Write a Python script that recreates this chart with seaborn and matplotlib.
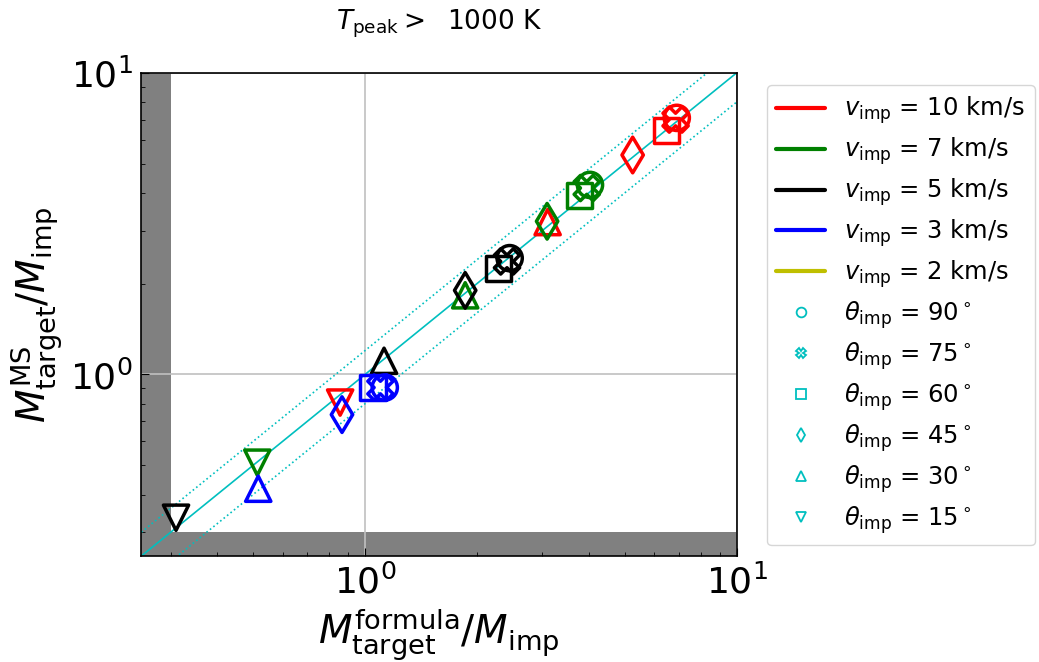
import numpy as np
import pandas as pd
import matplotlib
matplotlib.use('Agg')
import matplotlib.pyplot as plt
from matplotlib.lines import Line2D
import seaborn as sns

# impact velocities (km/s) and angles (deg)
v_imp = [10, 10, 10, 10, 10, 10,
         7, 7, 7, 7, 7, 7,
         5, 5, 5, 5, 5, 5,
         3, 3, 3, 3, 3]
theta_imp = [90, 75, 60, 45, 30, 15,
             90, 75, 60, 45, 30, 15,
             90, 75, 60, 45, 30, 15,
             90, 75, 60, 45, 30]
# M_target^formula / M_imp
m_formula = [6.90, 6.85, 6.48, 5.25, 3.10, 0.857,
             4.03, 3.95, 3.78, 3.09, 1.86, 0.513,
             2.45, 2.41, 2.29, 1.86, 1.125, 0.31,
             1.13, 1.10, 1.05, 0.867, 0.516]
# M_target^MS / M_imp
m_ms = [7.09, 7.00, 6.42, 5.34, 3.20, 0.807,
        4.25, 4.15, 3.93, 3.22, 1.83, 0.510,
        2.43, 2.37, 2.25, 1.90, 1.11, 0.335,
        0.905, 0.905, 0.905, 0.736, 0.418]

v_levels = [10, 7, 5, 3, 2]
v_colors = ['r', 'g', 'k', 'b', 'y']
theta_levels = [90, 75, 60, 45, 30, 15]
theta_markers = ['o', 'X', 's', 'd', '^', 'v']

df = pd.DataFrame({'x': m_formula, 'y': m_ms, 'v': v_imp, 'theta': theta_imp})

sns.set_style('ticks')
plt.rcParams['font.family'] = ['DejaVu Sans']
plt.rcParams['mathtext.fontset'] = 'dejavusans'
for key in ['text.color', 'axes.labelcolor', 'xtick.color', 'ytick.color', 'axes.edgecolor']:
    plt.rcParams[key] = 'black'

fig = plt.figure(figsize=(10.39, 6.62), dpi=100)
ax = fig.add_axes([0.136, 0.160, 0.573, 0.730])

ax.set_xscale('log')
ax.set_yscale('log')
ax.set_xlim(0.25, 10)
ax.set_ylim(0.25, 10)

# shaded region below 0.3
ax.axvspan(0.25, 0.3, color='gray', lw=0, zorder=0)
ax.axhspan(0.25, 0.3, color='gray', lw=0, zorder=0)
ax.grid(True, which='major', color='#c0c0c0', lw=1.2, zorder=0.5)

# one-to-one line and +-20 %
xx = np.array([0.25, 10])
ax.plot(xx, xx, color='c', lw=1.2, zorder=1)
ax.plot(xx, 1.2 * xx, color='c', lw=1.2, ls=':', zorder=1)
ax.plot(xx, 0.8 * xx, color='c', lw=1.2, ls=':', zorder=1)

sns.scatterplot(data=df, x='x', y='y', hue='v', style='theta',
                hue_order=v_levels, palette=dict(zip(v_levels, v_colors)),
                style_order=theta_levels, markers=dict(zip(theta_levels, theta_markers)),
                s=330, linewidth=2.5, legend=False, ax=ax, zorder=3)
coll = ax.collections[-1]
coll.set_edgecolors(coll.get_facecolors())
coll.set_facecolors('none')

ax.tick_params(which='both', direction='in', labelsize=26)
ax.tick_params(which='major', length=6, pad=6)
ax.tick_params(which='minor', length=3)
for sp in ax.spines.values():
    sp.set_linewidth(1.2)

ax.set_xlabel(r'$M_{\rm target}^{\rm formula}/M_{\rm imp}$', fontsize=28)
ax.set_ylabel(r'$M_{\rm target}^{\rm MS}/M_{\rm imp}$', fontsize=28)
ax.set_title(r'$T_{\rm peak} >$  1000 K', fontsize=19, pad=31)

handles = []
for v, c in zip(v_levels, v_colors):
    handles.append(Line2D([], [], color=c, lw=3, label=r'$v_{\rm imp}$ = %d km/s' % v))
for t, m in zip(theta_levels, theta_markers):
    handles.append(Line2D([], [], color='c', ls='none', marker=m, markersize=7,
                          markerfacecolor='none', markeredgewidth=1.3,
                          label=r'$\theta_{\rm imp}$ = %d$^\circ$' % t))
ax.legend(handles=handles, loc='upper left', bbox_to_anchor=(1.03, 1.0),
          fontsize=17.5, frameon=True, handlelength=2.0, labelspacing=0.38)

fig.savefig('out.png', dpi=100)
